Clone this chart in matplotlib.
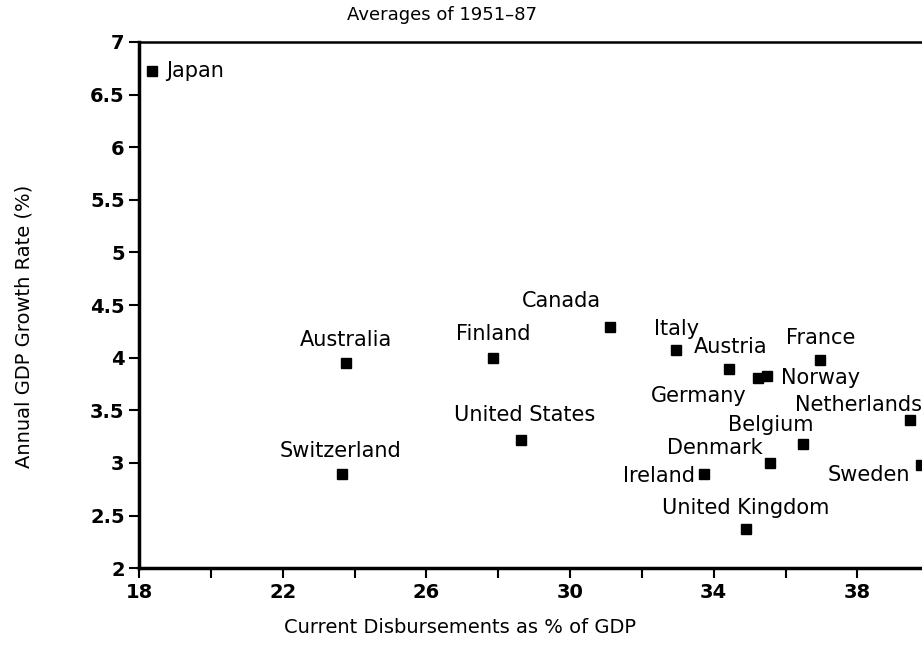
import matplotlib
matplotlib.use("Agg")
from matplotlib import pyplot as plt
from matplotlib.ticker import FixedLocator

countries = ["Japan", "Australia", "Switzerland", "Finland", "United States",
             "Canada", "Italy", "Austria", "Germany", "Norway", "France",
             "Netherlands", "Belgium", "Denmark", "Ireland", "Sweden",
             "United Kingdom"]
disburse = [18.35, 23.77, 23.65, 27.86, 28.64, 31.1, 32.95, 34.43, 35.23, 35.47,
            36.95, 39.46, 36.49, 35.56, 33.74, 39.77, 34.9]
growth = [6.72, 3.95, 2.9, 4.0, 3.22, 4.29, 4.07, 3.89, 3.81, 3.83, 3.98,
          3.41, 3.18, 3.0, 2.9, 2.98, 2.37]
xticks = [18, 22, 26, 30, 34, 38]
yticks = [2, 2.5, 3, 3.5, 4, 4.5, 5, 5.5, 6, 6.5, 7]

# label offsets in pixels and alignment
offs = {"Japan": (14, 0, "left"), "Australia": (0, 23, "center"),
        "Switzerland": (-2, 23, "center"), "Finland": (0, 24, "center"),
        "United States": (3, 25, "center"), "Canada": (-48, 26, "center"),
        "Italy": (1, 21, "center"), "Austria": (1, 22, "center"),
        "Germany": (-11, -18, "right"), "Norway": (14, -2, "left"),
        "France": (1, 22, "center"), "Netherlands": (12, 15, "right"),
        "Belgium": (10, 19, "right"), "Denmark": (-7, 15, "right"),
        "Ireland": (-9, -2, "right"), "Sweden": (-11, -10, "right"),
        "United Kingdom": (0, 21, "center")}

plt.rcParams['font.family'] = ['DejaVu Sans']
fig = plt.figure(figsize=(9.22, 6.45), dpi=100)
ax = fig.add_axes([0.151, 0.119, 0.849, 0.816])

ax.plot(disburse, growth, 's', color='black', markersize=7, clip_on=False)
for c, x, y in zip(countries, disburse, growth):
    dx, dy, ha = offs[c]
    ax.annotate(c, (x, y), xytext=(dx, dy), textcoords='offset pixels',
                ha=ha, va='center', fontsize=15, annotation_clip=False)

ax.set_xlim(18, 39.8)
ax.set_ylim(2, 7)
ax.xaxis.set_major_locator(FixedLocator(xticks))
ax.xaxis.set_minor_locator(FixedLocator([20, 24, 28, 32, 36]))
ax.set_xticklabels([str(v) for v in xticks])
ax.yaxis.set_major_locator(FixedLocator(yticks))
ax.set_yticklabels([f"{v:g}" for v in yticks])
ax.tick_params(axis='both', which='both', direction='out', length=7, width=1.5,
               labelsize=14)
for lab in ax.get_xticklabels() + ax.get_yticklabels():
    lab.set_fontweight('bold')
ax.spines['right'].set_visible(False)
ax.spines['left'].set_linewidth(2.5)
ax.spines['bottom'].set_linewidth(2.5)
ax.spines['top'].set_linewidth(1.8)

ax.set_title("Averages of 1951\u201387", fontsize=13, x=0.387, y=1.0, pad=16)
ax.set_xlabel("Current Disbursements as % of GDP", fontsize=14)
ax.xaxis.set_label_coords(0.41, -0.095)
ax.set_ylabel("Annual GDP Growth Rate (%)", fontsize=14)
ax.yaxis.set_label_coords(-0.135, 0.46)

fig.savefig("out.png", dpi=100)
